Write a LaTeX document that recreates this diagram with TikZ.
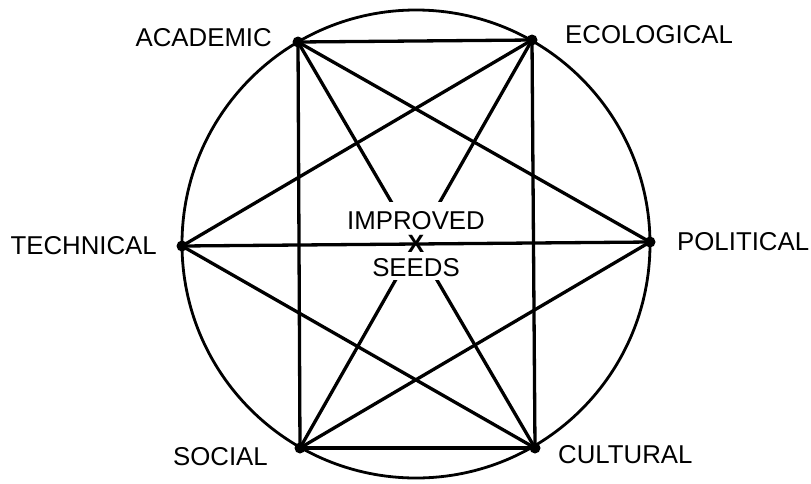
\documentclass[tikz,border=0pt]{standalone}
\usepackage{fontspec}
\setmainfont{Liberation Sans}
\begin{document}
\begin{tikzpicture}[x=1pt,y=-1pt,
  lab/.style={inner sep=0pt,font=\fontsize{25.8}{30}\selectfont},
  dot/.style={circle,fill=black,inner sep=0pt,minimum size=11pt},
  chord/.style={line width=3.3pt,line cap=round},
  rim/.style={line width=2.8pt}]
\useasboundingbox (0,0) rectangle (811,483);
\coordinate (O) at (416,244);
\draw[rim] (O) circle[radius=234];
\node[dot] (A) at (298,42) {};
\node[dot] (E) at (532,40) {};
\node[dot] (T) at (182,246) {};
\node[dot] (P) at (650,242) {};
\node[dot] (S) at (300,448) {};
\node[dot] (C) at (535,448) {};
\foreach \a/\b in {A/E,S/C,A/S,E/C,A/C,E/S,A/P,T/E,T/C,S/P}
  \draw[chord] (\a.center) -- (\b.center);
\node[fill=white,inner sep=0pt,minimum width=146pt,minimum height=78pt] (box) at (416,241) {};
\draw[chord] (T.center) -- (P.center);
\node[lab] (imp) at (416,221) {IMPROVED};
\node[lab] (seeds) at (416,268) {SEEDS};
\node[inner sep=0pt,font=\fontsize{25}{30}\selectfont\bfseries] (x) at (416,244) {X};
\node[lab,anchor=east] (lA) at (272,38) {ACADEMIC};
\node[lab,anchor=west] (lE) at (565,35) {ECOLOGICAL};
\node[lab,anchor=east] (lT) at (157,246) {TECHNICAL};
\node[lab,anchor=west] (lP) at (677,242) {POLITICAL};
\node[lab,anchor=east] (lS) at (268,457) {SOCIAL};
\node[lab,anchor=west] (lC) at (558,455) {CULTURAL};
\end{tikzpicture}
\end{document}
